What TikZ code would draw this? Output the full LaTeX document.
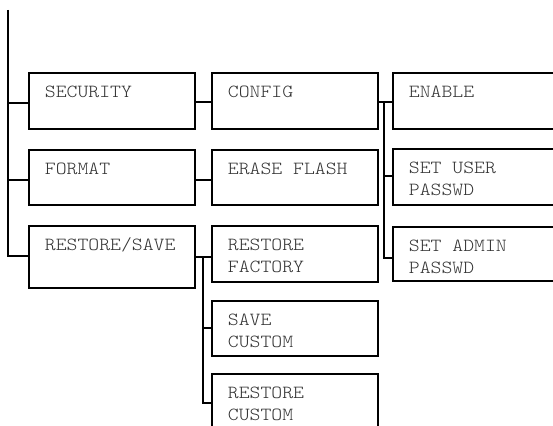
\documentclass[tikz,border=0pt]{standalone}
\usepackage{fontspec}
\setmonofont[FakeStretch=1.12]{lmmonolt10-regular.otf}
\newcommand{\bt}[3]{\parbox[c][#2][t]{#1}{\hspace*{16pt}\parbox[t]{\dimexpr#1-16pt\relax}{\rule{0pt}{25pt}#3}}}
\tikzset{
  mbox/.style={draw, line width=1.8pt, anchor=north west, inner sep=0pt,
    font=\ttfamily\fontsize{18.5}{21.5}\selectfont, text=black!80},
  conn/.style={line width=1.8pt}
}
\begin{document}
\begin{tikzpicture}[x=1pt,y=-1pt]
\clip (0,0) rectangle (553,425);
% left column
\node[mbox] (sec) at (28,72)  {\bt{166pt}{56pt}{SECURITY}};
\node[mbox] (fmt) at (28,149) {\bt{166pt}{55pt}{FORMAT}};
\node[mbox] (rs)  at (28,225) {\bt{166pt}{62pt}{\rule{0pt}{2pt}RESTORE/SAVE}};
% middle column
\node[mbox] (cfg) at (211,72)  {\bt{166pt}{56pt}{CONFIG}};
\node[mbox] (era) at (211,149) {\bt{166pt}{55pt}{ERASE FLASH}};
\node[mbox] (rf)  at (211,225) {\bt{166pt}{56pt}{RESTORE\\FACTORY}};
\node[mbox] (sc)  at (211,300) {\bt{166pt}{55pt}{SAVE\\CUSTOM}};
\node[mbox] (rc)  at (211,373) {\bt{166pt}{56pt}{RESTORE\\CUSTOM}};
% right column
\node[mbox] (en) at (392,72)  {\bt{166pt}{56pt}{ENABLE}};
\node[mbox] (su) at (392,148) {\bt{166pt}{56pt}{SET USER\\PASSWD}};
\node[mbox] (sa) at (392,226) {\bt{166pt}{54pt}{SET ADMIN\\PASSWD}};
% connectors
\coordinate (top) at (8,10);
\draw[conn] (top) |- (rs.west |- 0,256);
\draw[conn] (top |- 0,103) -- (sec.west |- 0,103);
\draw[conn] (top |- 0,180) -- (fmt.west |- 0,180);
\draw[conn] (sec.east |- 0,102) -- (cfg.west |- 0,102);
\draw[conn] (fmt.east |- 0,180) -- (era.west |- 0,180);
\draw[conn] (rs.east |- 0,257) -- (rf.west |- 0,257);
\coordinate (m) at (203,257);
\draw[conn] (m) |- (rc.west |- 0,403);
\draw[conn] (m |- 0,328) -- (sc.west |- 0,328);
\draw[conn] (cfg.east |- 0,102) -- (en.west |- 0,102);
\coordinate (r) at (384,102);
\draw[conn] (r) |- (sa.west |- 0,258);
\draw[conn] (r |- 0,176) -- (su.west |- 0,176);
\end{tikzpicture}
\end{document}
